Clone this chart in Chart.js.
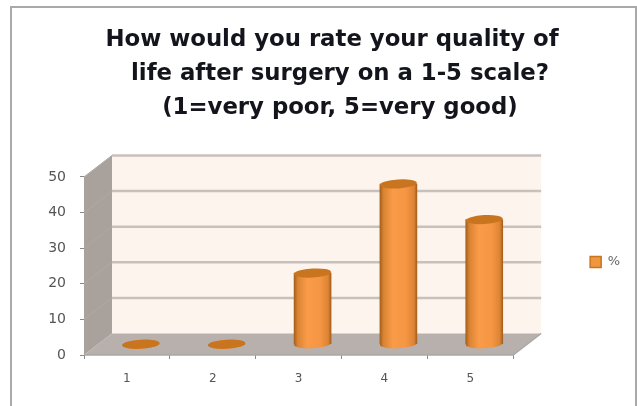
<!DOCTYPE html>
<html>
<head>
<meta charset="utf-8">
<script src="https://cdn.jsdelivr.net/npm/chart.js@4"></script>
<style>
  html, body { margin: 0; padding: 0; background: #fff; overflow: hidden; }
  #frame { position: absolute; left: 10px; top: 6px; width: 623px; height: 410px; border: 2px solid #a9a9a9; }
  #chart { position: absolute; left: 27px; top: 0; filter: blur(0.6px); }
</style>
</head>
<body>
<div id="frame"></div>
<canvas id="chart" width="610" height="406"></canvas>
<script>
const categories = ["1", "2", "3", "4", "5"];
const percent = [0, 0, 20, 45, 35];
const titleLines = ["How would you rate your quality of", "  life after surgery on a 1-5 scale?", "  (1=very poor, 5=very good)"];
const seriesName = "%";

const depthX = 28, depthY = 21.5;
const barW = 37;

// the bars sit halfway into the 3D box
const shiftX = depthX / 2, shiftY = -depthY / 2;

function sideGradient(ctx, x) {
  const g = ctx.createLinearGradient(x - barW / 2, 0, x + barW / 2, 0);
  g.addColorStop(0, "#a5601c");
  g.addColorStop(0.1, "#d98433");
  g.addColorStop(0.35, "#f99b48");
  g.addColorStop(0.7, "#f59644");
  g.addColorStop(0.92, "#dd8434");
  g.addColorStop(1, "#a5601c");
  return g;
}

const box3d = {
  id: "box3d",
  afterLayout(chart) {
    // nudge the legend to where the original has it
    chart.legend.left -= 7;
    chart.legend.right -= 7;
    chart.legend.top += 59;
    chart.legend.bottom += 59;
  },
  beforeDatasetsDraw(chart) {
    const { ctx, scales: { x, y } } = chart;
    const l = x.left, r = x.right, t = y.top, b = y.bottom;
    ctx.save();
    // back wall
    ctx.fillStyle = "#fdf4ee";
    ctx.fillRect(l + depthX, t - depthY, r - l, b - t);
    // side wall
    ctx.fillStyle = "#a8a19c";
    ctx.beginPath();
    ctx.moveTo(l, t); ctx.lineTo(l + depthX, t - depthY);
    ctx.lineTo(l + depthX, b - depthY); ctx.lineTo(l, b);
    ctx.closePath(); ctx.fill();
    // floor
    ctx.fillStyle = "#b7b0ac";
    ctx.beginPath();
    ctx.moveTo(l, b); ctx.lineTo(l + depthX, b - depthY);
    ctx.lineTo(r + depthX, b - depthY); ctx.lineTo(r, b);
    ctx.closePath(); ctx.fill();
    // grid lines follow the y ticks round the box
    y.ticks.forEach(tk => {
      if (tk.value === 0) return;
      const py = y.getPixelForValue(tk.value);
      ctx.strokeStyle = "#c8c0bb";
      ctx.lineWidth = 2.5;
      ctx.beginPath();
      ctx.moveTo(l + depthX, py - depthY);
      ctx.lineTo(r + depthX, py - depthY);
      ctx.stroke();
      ctx.strokeStyle = "#b0a9a4";
      ctx.lineWidth = 1;
      ctx.beginPath();
      ctx.moveTo(l, py);
      ctx.lineTo(l + depthX, py - depthY);
      ctx.stroke();
    });
    ctx.strokeStyle = "#a8a8a8";
    ctx.lineWidth = 1.5;
    ctx.beginPath();
    ctx.moveTo(l, b); ctx.lineTo(r, b); ctx.lineTo(r + depthX, b - depthY);
    ctx.stroke();
    ctx.restore();
    ctx.save();
    ctx.translate(shiftX, shiftY);
  },
  afterDatasetsDraw(chart) {
    const { ctx } = chart;
    chart.getDatasetMeta(0).data.forEach(bar => {
      // round bottom, then the darker lid
      ctx.fillStyle = sideGradient(ctx, bar.x);
      ctx.beginPath();
      ctx.ellipse(bar.x, bar.base, barW / 2, 4.5, -0.06, 0, Math.PI * 2);
      ctx.fill();
      ctx.fillStyle = "#c9751f";
      ctx.beginPath();
      ctx.ellipse(bar.x, bar.y, barW / 2, 4.5, -0.06, 0, Math.PI * 2);
      ctx.fill();
    });
    ctx.restore();
  }
};

new Chart(document.getElementById("chart"), {
  type: "bar",
  data: {
    labels: categories,
    datasets: [{
      label: seriesName,
      data: percent,
      backgroundColor: c => {
        const px = c.chart.scales.x ? c.chart.scales.x.getPixelForValue(c.dataIndex) : NaN;
        return Number.isFinite(px) ? sideGradient(c.chart.ctx, px) : "#f0963f";
      },
      barThickness: barW,
      borderWidth: 0
    }]
  },
  plugins: [box3d],
  options: {
    responsive: false,
    animation: false,
    plugins: {
      tooltip: { enabled: false },
      title: {
        display: true,
        text: titleLines,
        color: "#14141c",
        font: { family: "'DejaVu Sans'", size: 22.8, weight: "bold", lineHeight: 1.49 },
        padding: { top: 23, bottom: 52 }
      },
      legend: {
        position: "right",
        labels: {
          boxWidth: 11,
          boxHeight: 11,
          padding: 84,
          color: "#666",
          font: { family: "'DejaVu Sans'", size: 13 },
          generateLabels: chart => {
            const items = Chart.defaults.plugins.legend.labels.generateLabels(chart);
            items.forEach(it => { it.fillStyle = "#f0963f"; it.strokeStyle = "#c9751f"; it.lineWidth = 1.5; });
            return items;
          }
        }
      }
    },
    scales: {
      x: {
        afterFit: s => { s.height = 51; },
        grid: { offset: true, drawOnChartArea: false, tickLength: 4, color: "#8a8a8a" },
        border: { display: false },
        ticks: { color: "#555", padding: 13, font: { family: "'DejaVu Sans'", size: 12 } }
      },
      y: {
        min: 0,
        max: 50,
        afterFit: s => { s.width = 57; },
        ticks: { stepSize: 10, color: "#555", padding: 14, font: { family: "'DejaVu Sans'", size: 14 } },
        grid: { drawOnChartArea: false, tickLength: 4, color: "#8a8a8a" },
        border: { display: false }
      }
    }
  }
});
</script>
</body>
</html>
